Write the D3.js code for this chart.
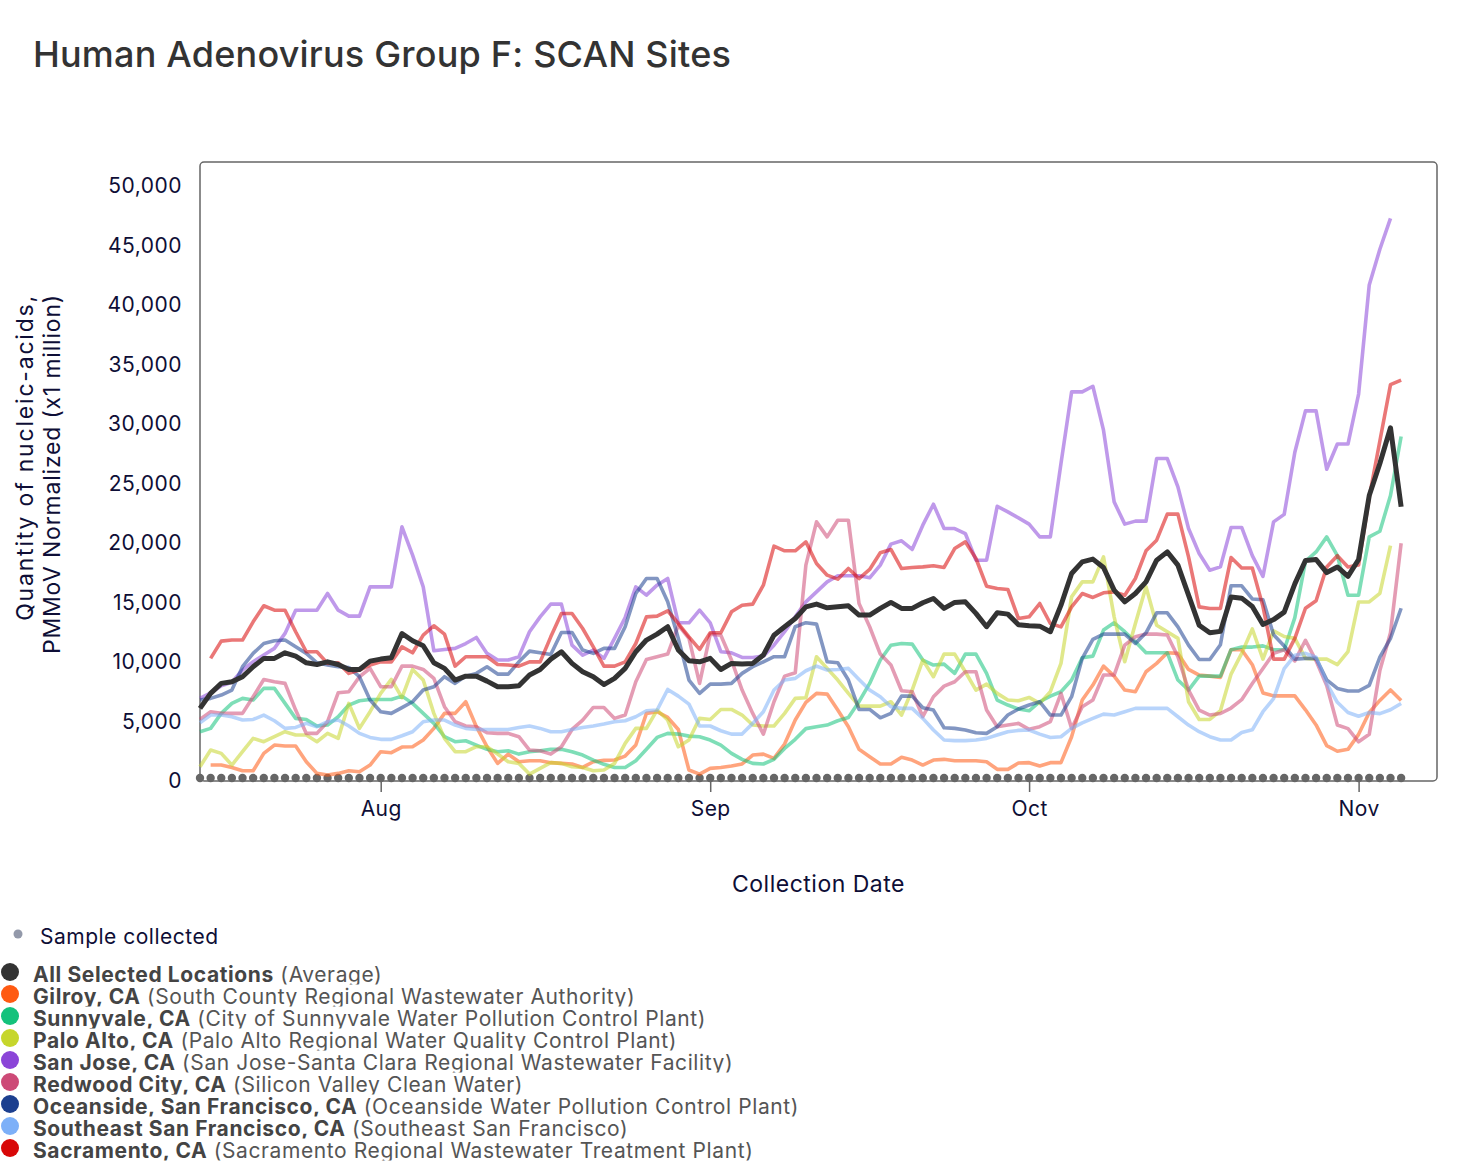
<!DOCTYPE html>
<html>
<head>
<meta charset="utf-8">
<script src="https://cdn.jsdelivr.net/npm/d3@7"></script>
<style>
  body { margin: 0; background: #fff; }
  svg { display: block; font-family: Inter, "Liberation Sans", Arial, sans-serif; }
</style>
</head>
<body>
<svg width="1478" height="1176"></svg>
<script>
// daily samples, 15 Jul 2023 .. 5 Nov 2023 (114 days)
var startDate = Date.UTC(2023, 6, 15);
var dayCount = 114;
var yTicks = [0, 5000, 10000, 15000, 20000, 25000, 30000, 35000, 40000, 45000, 50000];

var average = [6100,7360,8200,8340,8760,9600,10300,10300,10770,10490,9930,9790,10010,9790,9370,9370,10070,10240,10350,12390,
  11780,11360,9930,9460,8480,8810,8810,8390,7920,7920,8000,8900,9370,10240,10860,9880,9180,8760,8100,8620,
  9460,10860,11840,12340,12960,11000,10100,10010,10300,9370,9880,9820,9880,10580,12250,12960,13650,14630,14860,14550,
  14630,14720,13940,13940,14500,15000,14500,14500,14970,15330,14500,15000,15050,14080,12960,14130,14020,13130,13040,13010,
  12540,14770,17430,18410,18640,17940,16030,15050,15750,16730,18550,19250,18130,15610,13090,12450,12570,15450,15360,14660,
  13150,13560,14190,16560,18520,18610,17510,17980,17190,18610,23980,26670,29670,23040];

var gilroy = [null,1340,1340,1140,860,860,2320,3020,2940,2940,1620,640,500,640,860,780,1340,2460,2380,2850,
  2880,3440,4420,5680,5680,6660,4560,2880,1480,2260,1620,1700,1700,1540,1480,1430,1140,1620,1730,1760,
  2090,3020,5680,5820,5340,4330,920,580,1060,1140,1260,1430,2180,2260,1900,3100,5120,6600,7360,7300,
  5960,4560,2660,2040,1430,1430,1990,1760,1340,1760,1820,1700,1700,1700,1620,980,980,1510,1540,1260,
  1540,1540,3720,6800,8060,9650,8810,7640,7500,9180,9880,10770,10720,9370,8900,8810,8700,11030,11030,9770,
  7400,7150,7150,7150,5980,4710,2970,2500,2660,3920,5760,6770,7650,6770];

var sunnyvale = [4140,4420,5680,6520,6940,6800,7780,7780,6520,5260,5170,4620,4700,5400,6380,6740,6850,6850,6850,7130,
  6520,5680,4840,3720,3300,3380,3020,2660,2460,2540,2260,2460,2540,2660,2660,2460,2180,1760,1400,1140,
  1140,1700,2660,3660,4000,3940,3770,3720,3440,3020,2320,1820,1480,1430,1820,2740,3500,4400,4560,4700,
  5060,5340,6660,8200,10160,11410,11550,11500,10160,9740,9820,9040,10660,10660,9040,6800,6380,6050,5900,6660,
  7130,7500,8480,10350,10490,12680,13290,12540,11700,10770,10770,10770,8480,7640,8810,8810,8810,11030,11250,11250,
  11350,11030,11030,13720,18450,19240,20510,18930,15610,15610,20510,20980,23980,28940];

var paloAlto = [1200,2600,2320,1340,2460,3580,3300,3720,4140,3860,3860,3300,4000,3580,6520,4420,5820,7360,8530,7000,
  9370,8480,5680,3580,2460,2460,2880,2880,2260,1620,1480,580,1060,1540,1480,1200,1140,860,920,1480,
  3160,4420,4420,5960,5120,2880,3440,5260,5170,6010,6010,5540,4700,4620,4620,5680,6940,7000,10440,9460,
  8480,7360,6290,6290,6290,6660,5540,7640,10160,8760,10660,10660,9180,7640,8140,7360,6800,6740,7020,6520,
  7500,9880,15470,16730,16730,18830,13790,10020,13230,16310,13090,12540,11980,6660,5170,5170,5900,8980,10720,12770,
  10240,12610,12140,11980,10300,10240,10240,9770,10870,15040,15040,15770,19780,null];

var sanJose = [6940,7400,8000,8300,9320,10020,10580,11140,12400,14350,14350,14350,15750,14350,13850,13850,16310,16310,16310,21350,
  18970,16310,10940,11050,11140,11550,12060,10720,10160,10160,10440,12540,13790,14860,14860,11410,10580,11000,10300,11980,
  13740,16310,15620,16450,17010,13290,13290,14350,13290,10860,10770,10380,10380,10490,11410,12540,13790,15050,15890,16730,
  17240,17240,17240,17070,18130,19900,20180,19450,21490,23250,21210,21210,20790,18550,18550,23080,22610,22100,21580,20510,
  20510,26670,32690,32690,33160,29470,23450,21580,21830,21830,27090,27090,24710,21210,19110,17710,17990,21300,21300,18930,
  17190,21770,22400,27620,31090,31090,26190,28310,28310,32510,41670,44670,47260,null];

var redwood = [5170,5820,5680,5680,5680,7080,8530,8340,8200,5960,4000,4000,4980,7410,7500,8760,9460,7920,7920,9650,
  9650,9370,8620,6240,4980,4620,4560,4050,4000,4000,3720,2600,2540,2260,2880,4330,5120,6180,6170,5260,
  5540,8340,10210,10440,10660,13100,11980,8200,12340,12250,10160,7640,5680,3940,6660,8810,9090,18130,21770,20510,
  21910,21910,14910,12960,10660,9740,7580,7500,5400,7080,7970,8340,9180,9180,5960,4560,4700,4840,4340,4560,
  4980,7360,4420,6240,6800,8900,8900,11420,12120,12340,12340,12260,10440,7640,5960,5540,5670,6130,6830,8190,
  9450,10720,11030,10090,11820,10090,8030,4710,4400,3290,3920,9290,12450,19970];

var oceanside = [6800,6940,7220,7640,9600,10720,11550,11780,11840,11270,10720,9930,9740,9600,9540,8760,6800,5820,5680,6170,
  6660,7640,7920,8760,8200,8810,9040,9600,8980,8980,10010,10910,10770,10630,12480,12480,11000,10720,11140,11140,
  12960,15750,17010,17010,15050,11980,8480,7360,8140,8140,8200,9040,9600,10010,10440,10440,12960,13300,13180,10020,
  9930,8480,6010,6010,5310,5680,7130,7130,6150,5960,4470,4420,4280,4050,4000,4560,5540,6050,6380,6660,
  5540,5540,7080,10300,11890,12340,12340,12340,11560,12450,14130,14130,12950,11420,10210,10210,11450,16400,16400,15290,
  15230,12290,11350,10240,10300,10300,8500,7780,7560,7560,8030,10400,11980,14510];

var southeastSF = [4890,5540,5540,5400,5120,5170,5540,5060,4420,4500,4840,4560,4980,5120,4620,4000,3660,3500,3500,3800,
  4140,4980,5120,5120,4700,4420,4330,4330,4330,4330,4500,4620,4420,4140,4140,4330,4500,4620,4780,4980,
  5060,5400,5900,5960,7690,7130,6460,4620,4620,4220,3940,3940,4840,5820,7640,8480,8620,9260,9650,9320,
  9370,9460,8530,7640,7080,6240,6100,6100,5260,4280,3440,3390,3390,3440,3580,3860,4140,4250,4280,3940,
  3660,3720,4420,4890,5260,5620,5540,5820,6100,6100,6100,6100,5400,4700,4140,3720,3450,3450,4080,4300,
  5820,6920,9450,10560,10720,10400,8190,6610,5760,5440,5760,5660,5980,6510];

var sacramento = [null,10300,11750,11840,11840,13370,14720,14350,14350,12540,10860,10860,9880,9930,9040,9320,9740,10010,10010,11270,
  10770,12250,13040,12340,9650,10440,10440,10440,9790,9740,9650,10010,10010,12110,14070,14070,12810,11270,9650,9650,
  10010,11550,13790,13850,14300,13230,12110,11050,12450,12450,14210,14770,14860,16450,19730,19340,19340,20090,18270,17290,
  16960,17850,17010,17770,19170,19450,17850,17940,17990,18080,17940,19530,20090,18690,16370,16170,16090,13650,13790,14910,
  13230,12950,14630,15750,15420,15810,15890,15610,17010,19340,20230,22420,22420,18830,14630,14490,14500,18770,17890,17890,
  14670,10240,10240,11980,14510,15140,17980,18930,17980,18140,23820,28560,33300,33680];

var siteNames = ["All Selected Locations", "Gilroy, CA", "Sunnyvale, CA", "Palo Alto, CA", "San Jose, CA",
  "Redwood City, CA", "Oceanside, San Francisco, CA", "Southeast San Francisco, CA", "Sacramento, CA"];
var plantNames = ["(Average)", "(South County Regional Wastewater Authority)", "(City of Sunnyvale Water Pollution Control Plant)",
  "(Palo Alto Regional Water Quality Control Plant)", "(San Jose-Santa Clara Regional Wastewater Facility)",
  "(Silicon Valley Clean Water)", "(Oceanside Water Pollution Control Plant)", "(Southeast San Francisco)",
  "(Sacramento Regional Wastewater Treatment Plant)"];
var siteColors = ["#333333", "#ff5a12", "#14c27c", "#c6d62c", "#8b45d8", "#cd4a77", "#1c3f8f", "#7db0f8", "#d80808"];
var siteValues = [average, gilroy, sunnyvale, paloAlto, sanJose, redwood, oceanside, southeastSF, sacramento];

var dates = d3.utcDays(startDate, startDate + dayCount * 864e5);

var plot = { left: 200, top: 162, right: 1437, bottom: 781 };
var svg = d3.select("svg");
var navy = "#0e0e36";

var x = d3.scaleUtc()
    .domain([new Date(startDate), new Date(Date.UTC(2023, 10, 8, 9))])
    .range([plot.left, plot.right]);

var y = d3.scaleLinear()
    .domain([0, 52000])
    .range([plot.bottom, plot.top]);

// title
svg.append("text")
    .attr("x", 33)
    .attr("y", 67)
    .attr("fill", "#333")
    .style("font-size", "36px")
    .style("font-weight", 500)
    .style("letter-spacing", "0.2px")
    .text("Human Adenovirus Group F: SCAN Sites");

// y axis
var yAxis = svg.append("g")
    .attr("transform", `translate(${plot.left},0)`)
    .call(d3.axisLeft(y).tickValues(yTicks).tickSize(0).tickPadding(18).tickFormat(d3.format(",")));
yAxis.select(".domain").remove();
yAxis.selectAll("text")
    .attr("fill", navy)
    .style("font-size", "21px")
    .style("letter-spacing", "0.5px")
    .style("font-family", "Inter, sans-serif");

// x axis
var xAxis = svg.append("g")
    .attr("transform", `translate(0,${plot.bottom})`)
    .call(d3.axisBottom(x).ticks(d3.utcMonth.every(1)).tickFormat(d3.utcFormat("%b")).tickSize(11).tickPadding(9));
xAxis.select(".domain").remove();
xAxis.selectAll("line").attr("stroke", "#666").attr("stroke-width", 1.5);
xAxis.selectAll("text")
    .attr("fill", navy)
    .style("font-size", "21px")
    .style("letter-spacing", "0.4px")
    .style("font-family", "Inter, sans-serif");

// axis titles
svg.append("text")
    .attr("x", (plot.left + plot.right) / 2)
    .attr("y", 892)
    .attr("text-anchor", "middle")
    .attr("fill", navy)
    .style("font-size", "23px")
    .style("letter-spacing", "0.5px")
    .text("Collection Date");

var yTitle = svg.append("text")
    .attr("transform", "translate(33,294) rotate(-90)")
    .attr("text-anchor", "end")
    .attr("fill", navy)
    .style("font-size", "23px");
yTitle.append("tspan").attr("x", 0).attr("y", 0)
    .style("letter-spacing", "1.8px")
    .text("Quantity of nucleic-acids,");
yTitle.append("tspan").attr("x", 0).attr("y", 27)
    .style("letter-spacing", "0.8px")
    .text("PMMoV Normalized (x1 million)");

// frame
svg.append("rect")
    .attr("x", plot.left)
    .attr("y", plot.top)
    .attr("width", plot.right - plot.left)
    .attr("height", plot.bottom - plot.top)
    .attr("rx", 4)
    .attr("fill", "none")
    .attr("stroke", "#666")
    .attr("stroke-width", 1.5);

// sample collected markers
svg.append("g")
    .selectAll("circle")
    .data(dates)
    .enter().append("circle")
    .attr("cx", d => x(d))
    .attr("cy", plot.bottom - 3)
    .attr("r", 4.2)
    .attr("fill", "#666");

var line = d3.line()
    .defined(v => v != null)
    .x((v, i) => x(dates[i]))
    .y(v => y(v));

// site lines first, average on top
var order = [1, 2, 3, 4, 5, 6, 7, 8, 0];
svg.append("g")
    .selectAll("path")
    .data(order)
    .enter().append("path")
    .attr("d", k => line(siteValues[k]))
    .attr("fill", "none")
    .attr("stroke", k => siteColors[k])
    .attr("stroke-opacity", k => k === 0 ? 1 : 0.55)
    .attr("stroke-width", k => k === 0 ? 5 : 3.6)
    .attr("stroke-linejoin", "round");

// legend
svg.append("circle").attr("cx", 18).attr("cy", 934).attr("r", 4.5).attr("fill", "#9399aa");
svg.append("text")
    .attr("x", 40)
    .attr("y", 944)
    .attr("fill", navy)
    .style("font-size", "21px")
    .style("letter-spacing", "0.5px")
    .text("Sample collected");

var rowStep = 22;
var defs = svg.append("defs");
siteNames.forEach(function(name, i) {
    var cy = 972 + i * rowStep;
    // rows overlap, so each line loses its descenders like in the source page
    defs.append("clipPath").attr("id", "row" + i)
        .append("rect").attr("x", 0).attr("y", cy - 14).attr("width", 1000).attr("height", 26.5);
    svg.append("circle")
        .attr("cx", 10)
        .attr("cy", cy)
        .attr("r", 9)
        .attr("fill", siteColors[i]);
    var t = svg.append("text")
        .attr("x", 33)
        .attr("y", cy + 10)
        .attr("clip-path", "url(#row" + i + ")")
        .style("font-size", "21px")
        .style("letter-spacing", "0.6px");
    t.append("tspan").attr("fill", "#444").style("font-weight", 700).text(name);
    t.append("tspan").attr("fill", "#555").text(" " + plantNames[i]);
});
</script>
</body>
</html>
